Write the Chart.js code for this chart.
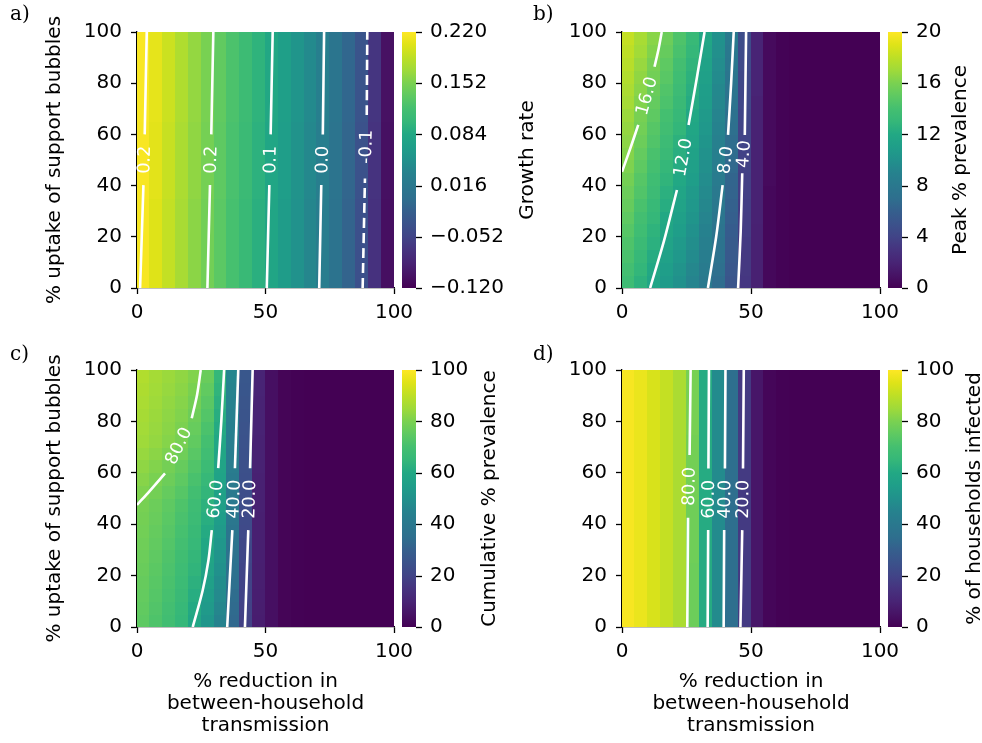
<!DOCTYPE html>
<html>
<head>
<meta charset="utf-8">
<script src="https://cdn.jsdelivr.net/npm/chart.js@4.4.1/dist/chart.umd.min.js"></script>
<style>
  body { margin: 0; background: #fff; width: 982px; height: 743px; position: relative; overflow: hidden; }
  canvas { position: absolute; }
</style>
</head>
<body>
<canvas id="pa"></canvas>
<canvas id="pb"></canvas>
<canvas id="pc"></canvas>
<canvas id="pd"></canvas>
<script>
// axes
const xTicks = [0, 50, 100];
const yTicks = [0, 20, 40, 60, 80, 100];
const cellEdges = [0, 5, 10, 15, 20, 25, 30, 35, 40, 45, 50, 55, 60, 65, 70, 75, 80, 85, 90, 95, 100];

// colorbar ticks
const growthTicks = [-0.12, -0.052, 0.016, 0.084, 0.152, 0.22];
const growthTickLabels = ['\u22120.120', '\u22120.052', '0.016', '0.084', '0.152', '0.220'];
const peakTicks = [0, 4, 8, 12, 16, 20];
const pctTicks = [0, 20, 40, 60, 80, 100];

// grids: one row per 5% uptake band (bottom -> top), one value per 5% reduction band (left -> right)
const growthGrid = [
  [0.216, 0.203, 0.189, 0.174, 0.160, 0.147, 0.133, 0.119, 0.106, 0.092, 0.079, 0.065, 0.051, 0.038, 0.024, 0.007, -0.013, -0.037, -0.071, -0.107],
  [0.216, 0.203, 0.189, 0.174, 0.160, 0.147, 0.133, 0.119, 0.106, 0.092, 0.079, 0.065, 0.051, 0.038, 0.024, 0.007, -0.013, -0.037, -0.071, -0.107],
  [0.216, 0.203, 0.189, 0.174, 0.160, 0.147, 0.133, 0.119, 0.106, 0.092, 0.079, 0.065, 0.051, 0.038, 0.024, 0.007, -0.013, -0.037, -0.071, -0.107],
  [0.216, 0.203, 0.189, 0.174, 0.160, 0.147, 0.133, 0.119, 0.106, 0.092, 0.079, 0.065, 0.051, 0.038, 0.024, 0.007, -0.013, -0.037, -0.071, -0.107],
  [0.216, 0.203, 0.189, 0.174, 0.160, 0.147, 0.133, 0.119, 0.106, 0.092, 0.079, 0.065, 0.051, 0.038, 0.024, 0.007, -0.013, -0.037, -0.071, -0.107],
  [0.216, 0.203, 0.189, 0.174, 0.160, 0.147, 0.133, 0.119, 0.106, 0.092, 0.079, 0.065, 0.051, 0.038, 0.024, 0.007, -0.013, -0.037, -0.071, -0.107],
  [0.216, 0.203, 0.189, 0.174, 0.160, 0.147, 0.133, 0.119, 0.106, 0.092, 0.079, 0.065, 0.051, 0.038, 0.024, 0.007, -0.013, -0.037, -0.071, -0.107],
  [0.217, 0.205, 0.191, 0.176, 0.162, 0.149, 0.135, 0.121, 0.108, 0.094, 0.081, 0.067, 0.053, 0.040, 0.026, 0.009, -0.011, -0.035, -0.069, -0.106],
  [0.217, 0.205, 0.191, 0.176, 0.162, 0.149, 0.135, 0.121, 0.108, 0.094, 0.081, 0.067, 0.053, 0.040, 0.026, 0.009, -0.011, -0.035, -0.069, -0.106],
  [0.217, 0.205, 0.191, 0.176, 0.162, 0.149, 0.135, 0.121, 0.108, 0.094, 0.081, 0.067, 0.053, 0.040, 0.026, 0.009, -0.011, -0.035, -0.069, -0.106],
  [0.217, 0.205, 0.191, 0.176, 0.162, 0.149, 0.135, 0.121, 0.108, 0.094, 0.081, 0.067, 0.053, 0.040, 0.026, 0.009, -0.011, -0.035, -0.069, -0.106],
  [0.217, 0.205, 0.191, 0.176, 0.162, 0.149, 0.135, 0.121, 0.108, 0.094, 0.081, 0.067, 0.053, 0.040, 0.026, 0.009, -0.011, -0.035, -0.069, -0.106],
  [0.217, 0.205, 0.191, 0.176, 0.162, 0.149, 0.135, 0.121, 0.108, 0.094, 0.081, 0.067, 0.053, 0.040, 0.026, 0.009, -0.011, -0.035, -0.069, -0.106],
  [0.218, 0.207, 0.193, 0.178, 0.164, 0.151, 0.137, 0.123, 0.110, 0.096, 0.083, 0.069, 0.055, 0.042, 0.028, 0.011, -0.009, -0.033, -0.067, -0.105],
  [0.218, 0.207, 0.193, 0.178, 0.164, 0.151, 0.137, 0.123, 0.110, 0.096, 0.083, 0.069, 0.055, 0.042, 0.028, 0.011, -0.009, -0.033, -0.067, -0.105],
  [0.218, 0.207, 0.193, 0.178, 0.164, 0.151, 0.137, 0.123, 0.110, 0.096, 0.083, 0.069, 0.055, 0.042, 0.028, 0.011, -0.009, -0.033, -0.067, -0.105],
  [0.218, 0.207, 0.193, 0.178, 0.164, 0.151, 0.137, 0.123, 0.110, 0.096, 0.083, 0.069, 0.055, 0.042, 0.028, 0.011, -0.009, -0.033, -0.067, -0.105],
  [0.218, 0.207, 0.193, 0.178, 0.164, 0.151, 0.137, 0.123, 0.110, 0.096, 0.083, 0.069, 0.055, 0.042, 0.028, 0.011, -0.009, -0.033, -0.067, -0.105],
  [0.218, 0.207, 0.193, 0.178, 0.164, 0.151, 0.137, 0.123, 0.110, 0.096, 0.083, 0.069, 0.055, 0.042, 0.028, 0.011, -0.009, -0.033, -0.067, -0.105],
  [0.218, 0.207, 0.193, 0.178, 0.164, 0.151, 0.137, 0.123, 0.110, 0.096, 0.083, 0.069, 0.055, 0.042, 0.028, 0.011, -0.009, -0.033, -0.067, -0.105]
];

const peakGrid = [
  [13.6, 12.6, 11.7, 10.8, 10.0, 9.1, 8.1, 6.9, 5.2, 3.2, 1.8, 0.4, 0.1, 0, 0, 0, 0, 0, 0, 0],
  [13.9, 12.9, 12.0, 11.0, 10.2, 9.3, 8.3, 7.1, 5.4, 3.3, 1.8, 0.4, 0.1, 0, 0, 0, 0, 0, 0, 0],
  [14.2, 13.1, 12.2, 11.3, 10.5, 9.6, 8.5, 7.3, 5.5, 3.3, 1.8, 0.4, 0.1, 0, 0, 0, 0, 0, 0, 0],
  [14.4, 13.4, 12.5, 11.5, 10.7, 9.8, 8.7, 7.4, 5.7, 3.4, 1.8, 0.4, 0.1, 0, 0, 0, 0, 0, 0, 0],
  [14.7, 13.7, 12.7, 11.8, 11.0, 10.0, 8.9, 7.6, 5.8, 3.5, 1.8, 0.4, 0.1, 0, 0, 0, 0, 0, 0, 0],
  [15.0, 13.9, 13.0, 12.0, 11.2, 10.3, 9.1, 7.8, 6.0, 3.5, 1.9, 0.4, 0.1, 0, 0, 0, 0, 0, 0, 0],
  [15.3, 14.2, 13.2, 12.3, 11.5, 10.5, 9.3, 8.0, 6.1, 3.6, 1.9, 0.4, 0.1, 0, 0, 0, 0, 0, 0, 0],
  [15.5, 14.5, 13.5, 12.5, 11.7, 10.7, 9.5, 8.1, 6.3, 3.7, 1.9, 0.4, 0.1, 0, 0, 0, 0, 0, 0, 0],
  [15.8, 14.7, 13.7, 12.8, 12.0, 11.0, 9.7, 8.3, 6.4, 3.7, 1.9, 0.5, 0.1, 0, 0, 0, 0, 0, 0, 0],
  [16.1, 15.0, 14.0, 13.0, 12.2, 11.2, 9.9, 8.5, 6.6, 3.8, 1.9, 0.5, 0.1, 0, 0, 0, 0, 0, 0, 0],
  [16.3, 15.2, 14.2, 13.3, 12.4, 11.4, 10.1, 8.7, 6.8, 3.9, 1.9, 0.5, 0.1, 0, 0, 0, 0, 0, 0, 0],
  [16.5, 15.5, 14.5, 13.5, 12.6, 11.6, 10.3, 8.8, 6.9, 4.0, 1.9, 0.5, 0.1, 0, 0, 0, 0, 0, 0, 0],
  [16.7, 15.7, 14.7, 13.8, 12.9, 11.8, 10.5, 9.0, 7.1, 4.0, 1.9, 0.5, 0.1, 0, 0, 0, 0, 0, 0, 0],
  [16.9, 15.9, 15.0, 14.0, 13.1, 12.0, 10.7, 9.1, 7.2, 4.1, 1.9, 0.5, 0.1, 0, 0, 0, 0, 0, 0, 0],
  [17.2, 16.2, 15.2, 14.3, 13.3, 12.2, 10.9, 9.3, 7.4, 4.2, 1.9, 0.5, 0.1, 0, 0, 0, 0, 0, 0, 0],
  [17.4, 16.4, 15.4, 14.5, 13.5, 12.4, 11.0, 9.4, 7.6, 4.2, 2.0, 0.5, 0.1, 0, 0, 0, 0, 0, 0, 0],
  [17.6, 16.6, 15.7, 14.8, 13.7, 12.6, 11.2, 9.6, 7.7, 4.3, 2.0, 0.5, 0.1, 0, 0, 0, 0, 0, 0, 0],
  [17.8, 16.8, 15.9, 15.0, 13.9, 12.8, 11.4, 9.7, 7.9, 4.4, 2.0, 0.5, 0.1, 0, 0, 0, 0, 0, 0, 0],
  [18.0, 17.1, 16.2, 15.3, 14.2, 13.0, 11.6, 9.9, 8.0, 4.5, 2.0, 0.5, 0.1, 0, 0, 0, 0, 0, 0, 0],
  [18.2, 17.3, 16.4, 15.5, 14.4, 13.2, 11.8, 10.0, 8.2, 4.6, 2.0, 0.5, 0.1, 0, 0, 0, 0, 0, 0, 0]
];

const cumulativeGrid = [
  [75.0, 72.0, 69.0, 65.0, 59.0, 52.0, 45.0, 33.0, 19.0, 8.0, 4, 1, 0.3, 0, 0, 0, 0, 0, 0, 0],
  [75.5, 72.6, 69.6, 65.8, 60.3, 53.4, 46.3, 33.8, 19.4, 8.1, 4, 1, 0.3, 0, 0, 0, 0, 0, 0, 0],
  [76.0, 73.3, 70.3, 66.5, 61.5, 54.8, 47.5, 34.5, 19.8, 8.3, 4, 1, 0.3, 0, 0, 0, 0, 0, 0, 0],
  [76.5, 73.9, 70.9, 67.3, 62.8, 56.1, 48.8, 35.3, 20.1, 8.4, 4, 1, 0.3, 0, 0, 0, 0, 0, 0, 0],
  [77.0, 74.5, 71.5, 68.0, 64.0, 57.5, 50.0, 36.0, 20.5, 8.5, 4, 1, 0.3, 0, 0, 0, 0, 0, 0, 0],
  [77.5, 75.1, 72.2, 68.8, 64.8, 58.6, 51.2, 36.8, 21.0, 8.6, 4, 1, 0.3, 0, 0, 0, 0, 0, 0, 0],
  [78.0, 75.7, 72.9, 69.6, 65.6, 59.7, 52.4, 37.6, 21.5, 8.7, 4, 1, 0.3, 0, 0, 0, 0, 0, 0, 0],
  [78.5, 76.3, 73.6, 70.4, 66.4, 60.8, 53.6, 38.4, 22.0, 8.8, 4, 1, 0.3, 0, 0, 0, 0, 0, 0, 0],
  [79.0, 76.9, 74.3, 71.2, 67.2, 61.9, 54.8, 39.2, 22.5, 8.9, 4, 1, 0.3, 0, 0, 0, 0, 0, 0, 0],
  [79.5, 77.5, 75.0, 72.0, 68.0, 63.0, 56.0, 40.0, 23.0, 9.0, 4, 1, 0.3, 0, 0, 0, 0, 0, 0, 0],
  [80.6, 78.7, 76.3, 73.5, 69.5, 64.4, 56.7, 40.6, 23.4, 9.1, 4, 1, 0.3, 0, 0, 0, 0, 0, 0, 0],
  [81.7, 79.9, 77.6, 75.0, 71.0, 65.8, 57.4, 41.2, 23.8, 9.2, 4, 1, 0.3, 0, 0, 0, 0, 0, 0, 0],
  [82.8, 81.1, 78.9, 76.5, 72.5, 67.2, 58.1, 41.8, 24.2, 9.3, 4, 1, 0.3, 0, 0, 0, 0, 0, 0, 0],
  [83.9, 82.3, 80.2, 78.0, 74.0, 68.6, 58.8, 42.4, 24.6, 9.4, 4, 1, 0.3, 0, 0, 0, 0, 0, 0, 0],
  [85.0, 83.5, 81.5, 79.5, 75.5, 70.0, 59.5, 43.0, 25.0, 9.5, 4, 1, 0.3, 0, 0, 0, 0, 0, 0, 0],
  [85.6, 84.0, 82.1, 80.2, 76.6, 71.4, 60.6, 43.6, 25.4, 9.6, 4, 1, 0.3, 0, 0, 0, 0, 0, 0, 0],
  [86.2, 84.5, 82.7, 80.9, 77.7, 72.8, 61.7, 44.2, 25.8, 9.7, 4, 1, 0.3, 0, 0, 0, 0, 0, 0, 0],
  [86.8, 85.0, 83.3, 81.6, 78.8, 74.2, 62.8, 44.8, 26.2, 9.8, 4, 1, 0.3, 0, 0, 0, 0, 0, 0, 0],
  [87.4, 85.5, 83.9, 82.3, 79.9, 75.6, 63.9, 45.4, 26.6, 9.9, 4, 1, 0.3, 0, 0, 0, 0, 0, 0, 0],
  [88.0, 86.0, 84.5, 83.0, 81.0, 77.0, 65.0, 46.0, 27.0, 10.0, 4, 1, 0.3, 0, 0, 0, 0, 0, 0, 0]
];

const householdsGrid = [
  [99, 97, 94, 91, 87, 77.5, 61, 48, 35, 17, 6, 1.5, 0.3, 0, 0, 0, 0, 0, 0, 0],
  [99, 97, 94, 91, 87, 77.5, 61, 48, 35, 17, 6, 1.5, 0.3, 0, 0, 0, 0, 0, 0, 0],
  [99, 97, 94, 91, 87, 77.5, 61, 48, 35, 17, 6, 1.5, 0.3, 0, 0, 0, 0, 0, 0, 0],
  [99, 97, 94, 91, 87, 77.5, 61, 48, 35, 17, 6, 1.5, 0.3, 0, 0, 0, 0, 0, 0, 0],
  [99, 97, 94, 91, 87, 77.5, 61, 48, 35, 17, 6, 1.5, 0.3, 0, 0, 0, 0, 0, 0, 0],
  [99, 97, 94, 91, 87, 78.0, 61, 48, 35, 17, 6, 1.5, 0.3, 0, 0, 0, 0, 0, 0, 0],
  [99, 97, 94, 91, 87, 78.0, 61, 48, 35, 17, 6, 1.5, 0.3, 0, 0, 0, 0, 0, 0, 0],
  [99, 97, 94, 91, 87, 78.0, 61, 48, 35, 17, 6, 1.5, 0.3, 0, 0, 0, 0, 0, 0, 0],
  [99, 97, 94, 91, 87, 78.0, 61, 48, 35, 17, 6, 1.5, 0.3, 0, 0, 0, 0, 0, 0, 0],
  [99, 97, 94, 91, 87, 78.0, 61, 48, 35, 17, 6, 1.5, 0.3, 0, 0, 0, 0, 0, 0, 0],
  [99, 97, 94, 91, 87, 78.8, 61, 48, 35, 17, 6, 1.5, 0.3, 0, 0, 0, 0, 0, 0, 0],
  [99, 97, 94, 91, 87, 78.8, 61, 48, 35, 17, 6, 1.5, 0.3, 0, 0, 0, 0, 0, 0, 0],
  [99, 97, 94, 91, 87, 78.8, 61, 48, 35, 17, 6, 1.5, 0.3, 0, 0, 0, 0, 0, 0, 0],
  [99, 97, 94, 91, 87, 78.8, 61, 48, 35, 17, 6, 1.5, 0.3, 0, 0, 0, 0, 0, 0, 0],
  [99, 97, 94, 91, 87, 78.8, 61, 48, 35, 17, 6, 1.5, 0.3, 0, 0, 0, 0, 0, 0, 0],
  [99, 97, 94, 91, 87, 79.5, 61, 48, 35, 17, 6, 1.5, 0.3, 0, 0, 0, 0, 0, 0, 0],
  [99, 97, 94, 91, 87, 79.5, 61, 48, 35, 17, 6, 1.5, 0.3, 0, 0, 0, 0, 0, 0, 0],
  [99, 97, 94, 91, 87, 79.5, 61, 48, 35, 17, 6, 1.5, 0.3, 0, 0, 0, 0, 0, 0, 0],
  [99, 97, 94, 91, 87, 79.5, 61, 48, 35, 17, 6, 1.5, 0.3, 0, 0, 0, 0, 0, 0, 0],
  [99, 97, 94, 91, 87, 79.5, 61, 48, 35, 17, 6, 1.5, 0.3, 0, 0, 0, 0, 0, 0, 0]
];

// contour lines: [x, y] points below and above the inline label
const growthContours = [
  { label: '0.2', lower: [[1.2, 0], [2.5, 40.2]], upper: [[3.0, 60], [3.8, 100]] },
  { label: '0.2', lower: [[27.4, 0], [28.4, 40.2]], upper: [[28.9, 60], [29.7, 100]] },
  { label: '0.1', lower: [[50.5, 0], [51.5, 40.2]], upper: [[52.0, 60], [52.8, 100]] },
  { label: '0.0', lower: [[70.9, 0], [71.7, 40.2]], upper: [[72.3, 60], [72.8, 100]] },
  { label: '-0.1', dashed: true, lower: [[87.8, 0], [88.7, 42.8]], upper: [[89.4, 67.6], [89.6, 100]] }
];
const peakContours = [
  { label: '16.0', lower: [[0, 45.4], [3.2, 54.5], [6.3, 63.7]], upper: [[12.6, 86.4], [14.2, 93.5], [15.4, 100]] },
  { label: '12.0', lower: [[10.9, 0], [16.3, 18.5], [21.3, 38.3]], upper: [[25.8, 63.7], [29.0, 82], [32.0, 100]] },
  { label: '8.0', lower: [[33.3, 0], [36.5, 20], [39.0, 40.2]], upper: [[41.1, 59.8], [42.3, 80], [43.3, 100]] },
  { label: '4.0', lower: [[45.0, 0], [46.0, 22], [46.6, 44.8]], upper: [[47.6, 59.8], [48.1, 100]] }
];
const cumulativeContours = [
  { label: '80.0', lower: [[0, 47.5], [5, 53], [10.9, 59.8]], upper: [[21.3, 81.2], [23.4, 90.5], [24.8, 100]] },
  { label: '60.0', lower: [[21.7, 0], [25.5, 14], [27.8, 26], [29.1, 37.7]], upper: [[31.6, 61.8], [32.8, 80], [33.9, 100]] },
  { label: '40.0', lower: [[35.1, 0], [37.1, 37.7]], upper: [[38.1, 61.8], [39.4, 100]] },
  { label: '20.0', lower: [[42.0, 0], [43.3, 37.7]], upper: [[44.0, 61.8], [45.0, 100]] }
];
const householdsContours = [
  { label: '80.0', lower: [[25.3, 0], [25.6, 42.5]], upper: [[26.2, 66.9], [26.6, 100]] },
  { label: '60.0', lower: [[33.2, 0], [33.4, 37.7]], upper: [[33.5, 61.7], [33.7, 100]] },
  { label: '40.0', lower: [[39.4, 0], [39.6, 37.7]], upper: [[39.9, 61.7], [40.1, 100]] },
  { label: '20.0', lower: [[45.9, 0], [46.6, 37.7]], upper: [[46.9, 61.7], [47.2, 100]] }
];

// viridis, every 0.05
const viridis = [
  [68, 1, 84], [71, 19, 101], [72, 36, 117], [70, 51, 127], [65, 68, 135], [59, 82, 139], [53, 95, 141],
  [46, 111, 142], [42, 120, 142], [38, 130, 142], [33, 145, 140], [31, 158, 137], [34, 168, 132],
  [53, 183, 121], [68, 191, 112], [94, 201, 98], [122, 209, 81], [159, 218, 58], [189, 223, 38],
  [223, 227, 24], [253, 231, 37]
];

function viridisColor(t) {
  t = Math.max(0, Math.min(1, t));
  const pos = t * (viridis.length - 1);
  const i = Math.min(Math.floor(pos), viridis.length - 2);
  const f = pos - i;
  const a = viridis[i], b = viridis[i + 1];
  const c = a.map((v, k) => Math.round(v + (b[k] - v) * f));
  return `rgb(${c[0]},${c[1]},${c[2]})`;
}

const FONT = 'DejaVu Sans';
Chart.defaults.font.family = FONT;
Chart.defaults.font.size = 20;
Chart.defaults.color = '#000';

const xTitle = ['% reduction in', 'between-household', 'transmission'];

const panels = [
  { id: 'pa', letter: 'a)', left: 0, top: 0, w: 560, h: 372, area: { l: 137, r: 394, t: 32, b: 288 },
    grid: growthGrid, min: -0.12, max: 0.22, cbTicks: growthTicks, cbLabels: growthTickLabels,
    cbTitle: 'Growth rate', cbTitleX: 528, yTitle: '% uptake of support bubbles', xTitle: null, contours: growthContours },
  { id: 'pb', letter: 'b)', left: 491, top: 0, w: 491, h: 372, area: { l: 622, r: 880, t: 32, b: 288 },
    grid: peakGrid, min: 0, max: 20, cbTicks: peakTicks, cbLabels: peakTicks.map(String),
    cbTitle: 'Peak % prevalence', cbTitleX: 961, yTitle: null, xTitle: null, contours: peakContours },
  { id: 'pc', letter: 'c)', left: 0, top: 340, w: 560, h: 403, area: { l: 137, r: 394, t: 370, b: 627 },
    grid: cumulativeGrid, min: 0, max: 100, cbTicks: pctTicks, cbLabels: pctTicks.map(String),
    cbTitle: 'Cumulative % prevalence', cbTitleX: 490, yTitle: '% uptake of support bubbles', xTitle: xTitle, contours: cumulativeContours },
  { id: 'pd', letter: 'd)', left: 491, top: 340, w: 491, h: 403, area: { l: 622, r: 880, t: 370, b: 627 },
    grid: householdsGrid, min: 0, max: 100, cbTicks: pctTicks, cbLabels: pctTicks.map(String),
    cbTitle: '% of households infected', cbTitleX: 975, yTitle: null, xTitle: xTitle, contours: householdsContours }
];

function panelPlugin(p) {
  return {
    id: 'panel_' + p.id,
    beforeDatasetsDraw(chart) {
      const { ctx, chartArea: a, scales: { x, y } } = chart;
      ctx.save();
      ctx.beginPath();
      ctx.rect(a.left, a.top, a.right - a.left, a.bottom - a.top);
      ctx.clip();
      p.grid.forEach((row, j) => {
        row.forEach((v, i) => {
          const x0 = Math.floor(x.getPixelForValue(cellEdges[i]));
          const x1 = Math.ceil(x.getPixelForValue(cellEdges[i + 1]));
          const y0 = Math.floor(y.getPixelForValue(cellEdges[j + 1]));
          const y1 = Math.ceil(y.getPixelForValue(cellEdges[j]));
          ctx.fillStyle = viridisColor((v - p.min) / (p.max - p.min));
          ctx.fillRect(x0, y0, x1 - x0, y1 - y0);
        });
      });
      ctx.restore();
    },
    afterDatasetsDraw(chart) {
      const { ctx, scales: { x, y } } = chart;
      ctx.save();
      ctx.fillStyle = '#fff';
      ctx.font = `17.5px "${FONT}"`;
      ctx.textAlign = 'center';
      ctx.textBaseline = 'middle';
      p.contours.forEach(c => {
        const g1 = c.lower[c.lower.length - 1], g2 = c.upper[0];
        const x1 = x.getPixelForValue(g1[0]), y1 = y.getPixelForValue(g1[1]);
        const x2 = x.getPixelForValue(g2[0]), y2 = y.getPixelForValue(g2[1]);
        let ang = Math.atan2(y2 - y1, x2 - x1);
        if (ang < -Math.PI / 2) ang += Math.PI;
        if (ang > Math.PI / 2) ang -= Math.PI;
        ctx.save();
        ctx.translate((x1 + x2) / 2, (y1 + y2) / 2);
        ctx.rotate(ang);
        ctx.fillText(c.label, 0, 1);
        ctx.restore();
      });
      ctx.restore();
    },
    afterDraw(chart) {
      const { ctx, chartArea: a } = chart;
      const cb = chart.scales.cb;
      const sx0 = a.right + 8, sx1 = a.right + 22;
      const yMin = cb.getPixelForValue(p.min), yMax = cb.getPixelForValue(p.max);
      ctx.save();
      const grad = ctx.createLinearGradient(0, yMin, 0, yMax);
      viridis.forEach((c, i) => grad.addColorStop(i / (viridis.length - 1), `rgb(${c[0]},${c[1]},${c[2]})`));
      ctx.fillStyle = grad;
      ctx.fillRect(sx0, yMax, sx1 - sx0, yMin - yMax);
      ctx.strokeStyle = '#000';
      ctx.lineWidth = 1.3;
      p.cbTicks.forEach(v => {
        const py = Math.round(cb.getPixelForValue(v)) + 0.5;
        ctx.beginPath();
        ctx.moveTo(sx1, py);
        ctx.lineTo(sx1 + 6, py);
        ctx.stroke();
      });
      // colorbar label
      ctx.fillStyle = '#000';
      ctx.font = `20px "${FONT}"`;
      ctx.textAlign = 'center';
      ctx.textBaseline = 'middle';
      ctx.save();
      ctx.translate(p.cbTitleX - p.left, (a.top + a.bottom) / 2);
      ctx.rotate(-Math.PI / 2);
      ctx.fillText(p.cbTitle, 0, 0);
      ctx.restore();
      // panel letter
      ctx.font = `20px "DejaVu Serif"`;
      ctx.textAlign = 'left';
      ctx.fillText(p.letter, (p.left === 0 ? 10 : 533) - p.left, (p.top === 0 ? 15 : 355) - p.top);
      ctx.restore();
    }
  };
}

// axis boxes get fixed sizes and no extra label room, so the plot lands where it should
function fixBox(size, horizontal) {
  return s => {
    if (horizontal) s.height = size; else s.width = size;
    s.paddingTop = 0;
    s.paddingBottom = 0;
    s.paddingLeft = 0;
    s.paddingRight = 0;
  };
}

panels.forEach(p => {
  const canvas = document.getElementById(p.id);
  canvas.width = p.w;
  canvas.height = p.h;
  canvas.style.left = p.left + 'px';
  canvas.style.top = p.top + 'px';
  canvas.style.width = p.w + 'px';
  canvas.style.height = p.h + 'px';

  const yBoxW = p.area.l - p.left;
  const cbBoxW = p.left + p.w - p.area.r;
  const xBoxH = p.top + p.h - p.area.b;

  const datasets = [];
  p.contours.forEach(c => {
    [c.lower, c.upper].forEach(seg => {
      datasets.push({
        type: 'line',
        data: seg.map(([x, y]) => ({ x, y })),
        xAxisID: 'x',
        yAxisID: 'y',
        borderColor: '#fff',
        borderWidth: 2.6,
        borderDash: c.dashed ? [10, 5] : [],
        pointRadius: 0,
        tension: 0.3,
        fill: false
      });
    });
  });

  const tickGrid = { drawOnChartArea: false, drawTicks: true, tickLength: 6, tickWidth: 1.3, color: '#000' };
  const spine = { display: true, color: '#000', width: 1.3 };

  new Chart(canvas, {
    type: 'line',
    data: { datasets },
    options: {
      responsive: false,
      maintainAspectRatio: false,
      animation: false,
      events: [],
      layout: { padding: { top: p.area.t - p.top, left: 0, right: 0, bottom: 0 } },
      plugins: { legend: { display: false }, tooltip: { enabled: false } },
      scales: {
        x: {
          type: 'linear', position: 'bottom', min: 0, max: 100, z: 1,
          afterBuildTicks: s => { s.ticks = xTicks.map(v => ({ value: v })); },
          afterFit: fixBox(xBoxH, true),
          grid: tickGrid, border: spine,
          ticks: { padding: 7, maxRotation: 0, color: '#000', font: { size: 20 } },
          title: p.xTitle
            ? { display: true, text: p.xTitle, color: '#000', font: { size: 20, lineHeight: 1.1 }, padding: { top: 0, bottom: 6 } }
            : { display: false }
        },
        y: {
          type: 'linear', position: 'left', min: 0, max: 100, z: 1,
          afterBuildTicks: s => { s.ticks = yTicks.map(v => ({ value: v })); },
          afterFit: fixBox(yBoxW, false),
          grid: tickGrid, border: spine,
          ticks: { padding: 9, color: '#000', font: { size: 20 } },
          title: p.yTitle
            ? { display: true, text: p.yTitle, color: '#000', font: { size: 20, lineHeight: 1.2 }, padding: { top: 43, bottom: 0 } }
            : { display: false }
        },
        cb: {
          type: 'linear', axis: 'y', position: 'right', min: p.min, max: p.max, z: 1,
          afterBuildTicks: s => { s.ticks = p.cbTicks.map(v => ({ value: v })); },
          afterFit: fixBox(cbBoxW, false),
          grid: { display: false, drawTicks: false },
          border: { display: false },
          ticks: { padding: 36, color: '#000', font: { size: 20 }, callback: (v, i) => p.cbLabels[i] }
        }
      }
    },
    plugins: [panelPlugin(p)]
  });
});
</script>
</body>
</html>
